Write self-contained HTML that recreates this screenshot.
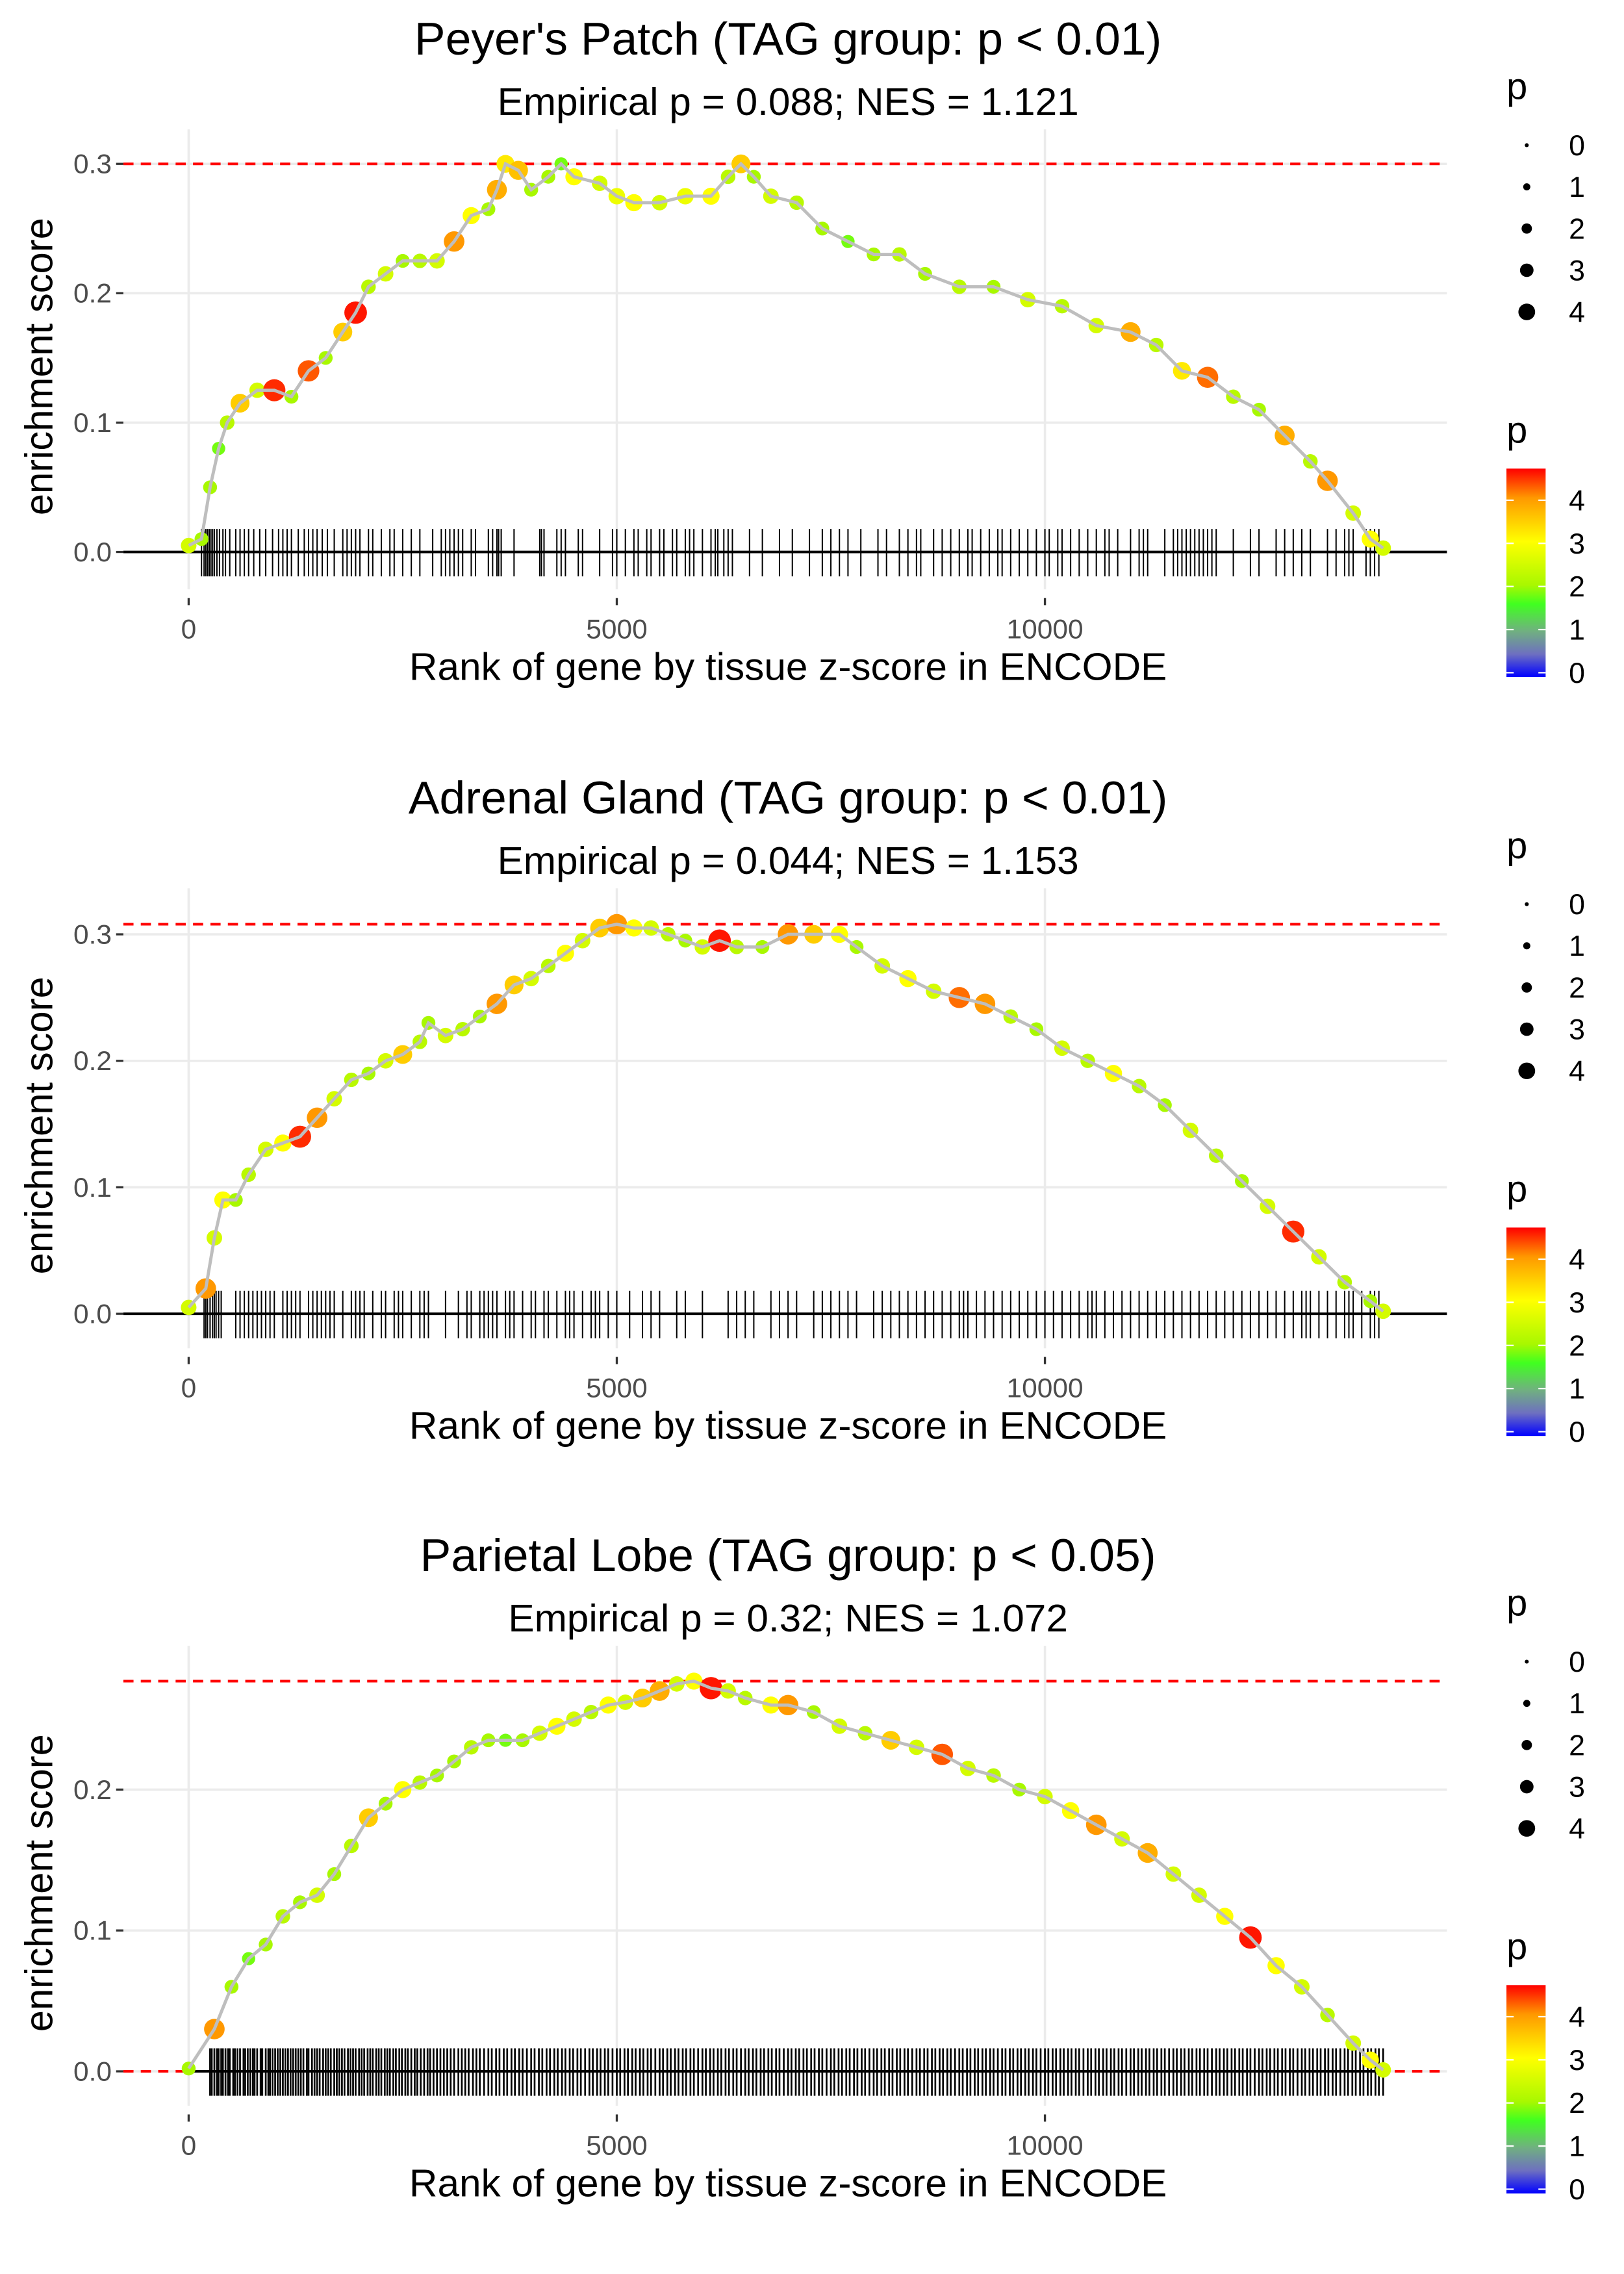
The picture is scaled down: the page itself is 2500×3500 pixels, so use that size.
<!DOCTYPE html>
<html><head><meta charset="utf-8"><title>Enrichment plots</title>
<style>html,body{margin:0;padding:0;background:#fff}svg{display:block}text{font-family:"Liberation Sans",sans-serif}</style>
</head><body>
<svg id="chart" xmlns="http://www.w3.org/2000/svg" width="2500" height="3500" viewBox="0 0 1119 1582" preserveAspectRatio="none">
<defs>
<linearGradient id="pgrad" x1="0" y1="1" x2="0" y2="0">
<stop offset="0%" stop-color="#0000ff"/><stop offset="11%" stop-color="#6e70c0"/><stop offset="22%" stop-color="#70b080"/>
<stop offset="35%" stop-color="#40ff20"/><stop offset="44%" stop-color="#a8f800"/><stop offset="65%" stop-color="#ffff00"/>
<stop offset="86%" stop-color="#ff9800"/><stop offset="100%" stop-color="#ff0000"/></linearGradient>
</defs>
</svg>
<script>
const NS="http://www.w3.org/2000/svg";
const svg=document.getElementById('chart');
const xTicks=[0,5000,10000];
// Panel 1: Peyer's Patch
const p1Rank=[0,150,250,350,450,600,800,1000,1200,1400,1600,1800,1950,2100,2300,2500,2700,2900,3100,3300,3500,3600,3700,3850,4000,4200,4350,4500,4800,5000,5200,5500,5800,6100,6300,6450,6600,6800,7100,7400,7700,8000,8300,8600,9000,9400,9800,10200,10600,11000,11300,11600,11900,12200,12500,12800,13100,13300,13600,13800,13950];
const p1ES=[.005,.01,.05,.08,.10,.115,.125,.125,.12,.14,.15,.17,.185,.205,.215,.225,.225,.225,.24,.26,.265,.28,.30,.295,.28,.29,.30,.29,.285,.275,.27,.27,.275,.275,.29,.30,.29,.275,.27,.25,.24,.23,.23,.215,.205,.205,.195,.19,.175,.17,.16,.14,.135,.12,.11,.09,.07,.055,.03,.01,.003];
const p1P=[2.5,2,2,1.8,2.2,3.5,2.5,4.5,2,4.3,2,3.5,4.6,2.2,2.5,2,2.2,2.5,4,3,2,3.8,3.2,3.6,2,2,1.8,3,2.5,2.8,3,2.5,2.8,3,2.2,3.5,2,2.5,2.2,2,1.8,2,2.2,2,2.2,2,2.5,2.2,2.5,3.8,2.2,3.2,4.2,2.2,2,3.8,2.2,4,2.5,3,2.5];
const p1Rug=[150,180,200,220,240,260,280,300,330,360,400,430,480,550,600,650,700,760,830,900,980,1050,1100,1150,1200,1280,1350,1400,1450,1500,1560,1620,1700,1800,1850,1900,1950,2000,2100,2150,2250,2350,2400,2500,2600,2700,2850,2950,3000,3050,3100,3150,3200,3300,3350,3500,3550,3600,3620,3650,3800,4100,4120,4150,4300,4350,4400,4550,4600,4800,4950,5000,5100,5200,5250,5350,5400,5500,5550,5650,5700,5800,5850,5900,6000,6100,6150,6180,6250,6300,6350,6550,6700,6900,7050,7250,7400,7500,7600,7700,7850,8050,8150,8300,8400,8500,8550,8700,8800,8900,9000,9100,9150,9250,9350,9450,9500,9600,9700,9800,9900,10000,10050,10150,10200,10300,10400,10500,10600,10700,10750,10850,11000,11100,11150,11200,11400,11500,11550,11600,11650,11700,11750,11800,11850,11900,11950,12000,12200,12400,12500,12700,12800,12900,13000,13100,13300,13400,13500,13550,13600,13750,13800,13850,13900];
const p1YTicks=[0,0.1,0.2,0.3];
// Panel 2: Adrenal Gland
const p2Rank=[0,200,300,400,550,700,900,1100,1300,1500,1700,1900,2100,2300,2500,2700,2800,3000,3200,3400,3600,3800,4000,4200,4400,4600,4800,5000,5200,5400,5600,5800,6000,6200,6400,6700,7000,7300,7600,7800,8100,8400,8700,9000,9300,9600,9900,10200,10500,10800,11100,11400,11700,12000,12300,12600,12900,13200,13500,13800,13950];
const p2ES=[.005,.02,.06,.09,.09,.11,.13,.135,.14,.155,.17,.185,.19,.2,.205,.215,.23,.22,.225,.235,.245,.26,.265,.275,.285,.295,.305,.308,.305,.305,.3,.295,.29,.295,.29,.29,.3,.3,.3,.29,.275,.265,.255,.25,.245,.235,.225,.21,.2,.19,.18,.165,.145,.125,.105,.085,.065,.045,.025,.01,.002];
const p2P=[2.5,4,2.5,3,2,2.2,2.5,3,4.5,4,2.5,2.2,2,2.5,3.5,2.2,2,2.5,2.2,2,4,3.5,2.5,2.2,3,2.5,3.5,4,3,2.5,2.2,2,2.5,4.6,2.2,2,4,3.5,3,2,2.5,3,2.5,4.2,4,2.2,2,2.5,2.2,3,2.2,2,2.5,2.2,2,2.5,4.5,2.5,2.2,2,2.5];
const p2Rug=[180,200,220,250,280,300,320,350,380,550,600,650,700,750,800,850,900,950,1000,1100,1150,1200,1250,1300,1400,1450,1500,1550,1600,1650,1700,1800,1900,1950,2000,2050,2150,2250,2300,2400,2450,2500,2600,2700,2750,2800,3000,3150,3250,3300,3400,3450,3500,3550,3600,3700,3750,3800,3900,4000,4050,4150,4200,4300,4400,4450,4500,4600,4700,4750,4800,4900,5000,5150,5300,5400,5500,5700,5800,6000,6300,6400,6500,6600,6800,6900,7000,7100,7300,7400,7500,7600,7700,7800,8000,8100,8200,8300,8400,8500,8600,8700,8800,8900,9000,9050,9100,9200,9300,9400,9500,9600,9700,9800,9900,10000,10100,10200,10300,10400,10500,10550,10600,10700,10800,10900,11000,11100,11200,11300,11400,11500,11600,11700,11800,11900,12000,12100,12200,12300,12400,12500,12600,12700,12800,12900,13000,13050,13100,13200,13300,13400,13500,13550,13600,13700,13800,13850,13900];
const p2YTicks=[0,0.1,0.2,0.3];
// Panel 3: Parietal Lobe
const p3Rank=[0,300,500,700,900,1100,1300,1500,1700,1900,2100,2300,2500,2700,2900,3100,3300,3500,3700,3900,4100,4300,4500,4700,4900,5100,5300,5500,5700,5900,6100,6300,6500,6800,7000,7300,7600,7900,8200,8500,8800,9100,9400,9700,10000,10300,10600,10900,11200,11500,11800,12100,12400,12700,13000,13300,13600,13800,13950];
const p3ES=[.002,.03,.06,.08,.09,.11,.12,.125,.14,.16,.18,.19,.2,.205,.21,.22,.23,.235,.235,.235,.24,.245,.25,.255,.26,.262,.265,.27,.275,.277,.272,.27,.265,.26,.26,.255,.245,.24,.235,.23,.225,.215,.21,.2,.195,.185,.175,.165,.155,.14,.125,.11,.095,.075,.06,.04,.02,.008,.001];
const p3P=[2,4,2,1.8,2,2.2,2,2.5,2,2.2,3.5,2,3,2.2,2,2,2.2,2,1.8,2,2.5,3,2.5,2.2,3,2.5,3.5,3.8,2.5,3,4.6,2.5,2.2,3,4,2,2.5,2.2,3.5,2.5,4.3,2.5,2.2,2,2.5,3,4,2.5,3.8,2.5,2.5,3,4.6,3,2.5,2.2,2.5,3,2.5];
const p3Rug=[250,270,300,330,350,380,400,430,460,480,520,540,570,600,640,660,690,720,750,770,800,840,860,900,930,950,980,1010,1040,1070,1100,1130,1160,1190,1220,1250,1280,1310,1340,1380,1400,1440,1470,1500,1530,1570,1600,1630,1660,1700,1730,1760,1790,1820,1860,1890,1920,1950,1990,2020,2050,2090,2120,2150,2190,2220,2250,2290,2320,2350,2390,2420,2460,2490,2530,2560,2600,2640,2670,2710,2750,2790,2820,2860,2900,2940,2980,3020,3060,3100,3150,3190,3230,3270,3320,3360,3400,3450,3500,3540,3590,3630,3680,3720,3770,3810,3860,3900,3950,4000,4040,4090,4130,4180,4220,4270,4310,4360,4400,4450,4490,4540,4580,4630,4680,4720,4770,4810,4860,4900,4950,5000,5040,5090,5130,5180,5220,5270,5310,5360,5400,5450,5500,5540,5590,5630,5680,5720,5770,5810,5860,5900,5950,6000,6040,6090,6130,6180,6220,6270,6310,6360,6400,6450,6500,6540,6590,6630,6680,6720,6770,6810,6860,6900,6950,7000,7040,7090,7130,7180,7220,7270,7310,7360,7400,7450,7500,7540,7590,7630,7680,7720,7770,7810,7860,7900,7950,8000,8040,8090,8130,8180,8220,8270,8310,8360,8400,8450,8500,8540,8590,8630,8680,8720,8770,8810,8860,8900,8950,9000,9040,9090,9130,9180,9220,9270,9310,9360,9400,9450,9500,9540,9590,9630,9680,9720,9770,9810,9860,9900,9950,10000,10040,10090,10130,10180,10220,10270,10310,10360,10400,10450,10500,10540,10590,10630,10680,10720,10770,10810,10860,10900,10950,11000,11040,11090,11130,11180,11220,11270,11310,11360,11400,11450,11500,11540,11590,11630,11680,11720,11770,11810,11860,11900,11950,12000,12040,12090,12130,12180,12220,12270,12310,12360,12400,12450,12500,12540,12590,12630,12680,12720,12770,12810,12860,12900,12950,13000,13040,13090,13130,13180,13220,13270,13310,13360,13400,13450,13500,13540,13590,13630,13680,13720,13770,13810,13860,13900,13950];
const p3YTicks=[0,0.1,0.2];
const legendSizes=[0,1,2,3,4];

const stops=[[0,[0,0,255]],[0.5,[110,112,192]],[1,[112,176,128]],[1.6,[64,255,32]],[2,[168,248,0]],[3,[255,255,0]],[4,[255,152,0]],[4.7,[255,0,0]]];
function colorFor(p){
  if(p<=stops[0][0])return 'rgb(0,0,255)';
  for(let i=1;i<stops.length;i++){if(p<=stops[i][0]){const a=stops[i-1],b=stops[i],t=(p-a[0])/(b[0]-a[0]);
    const c=a[1].map((v,k)=>Math.round(v+(b[1][k]-v)*t));return `rgb(${c[0]},${c[1]},${c[2]})`;}}
  return 'rgb(255,0,0)';
}
function radiusFor(p){return 2.5+1.15*p;}
function el(tag,attrs,parent){const e=document.createElementNS(NS,tag);for(const k in attrs)e.setAttribute(k,attrs[k]);(parent||svg).appendChild(e);return e;}
function txt(s,attrs,parent){const e=el('text',attrs,parent);e.textContent=s;return e;}

function drawPanel(o,title,sub,ranks,es,ps,rug,yTicks,y0,yScale,rugW,zeroDash,gname){
  const g=el('g',{});
  
  
  const L=85,R=997,T=o+90,B=o+410;
  const xS=r=>130+r*0.059;
  const yS=v=>o+y0-v*yScale;
  yTicks.forEach(v=>{const l=el('line',{x1:L,x2:R,y1:yS(v),y2:yS(v),stroke:'#ebebeb','stroke-width':1.6},g);
    });
  xTicks.forEach(v=>{const l=el('line',{x1:xS(v),x2:xS(v),y1:T,y2:B,stroke:'#ebebeb','stroke-width':1.6},g);
    });
  const mx=Math.max(...es);
  const dl=el('line',{x1:L,x2:R,y1:yS(mx),y2:yS(mx),stroke:'#ff0000','stroke-width':1.8,'stroke-dasharray':'7,5'},g);
  
  if(zeroDash){const z=el('line',{x1:L,x2:R,y1:yS(0),y2:yS(0),stroke:'#ff0000','stroke-width':1.8,'stroke-dasharray':'7,5'},g);
    }
  const rg=el('g',{},g);
  rug.forEach(r=>{const t=el('line',{x1:xS(r),x2:xS(r),y1:yS(0)-16,y2:yS(0)+17,stroke:'#000','stroke-width':rugW},rg);
    });
  const zl=el('line',{x1:zeroDash?xS(0):L,x2:zeroDash?xS(13950):R,y1:yS(0),y2:yS(0),stroke:'#000','stroke-width':1.8},g);
  
  const pg=el('g',{},g);
  ranks.forEach((r,i)=>{const c=el('circle',{cx:xS(r),cy:yS(es[i]),r:radiusFor(ps[i]),fill:colorFor(ps[i])},pg);
    });
  const path=el('polyline',{points:ranks.map((r,i)=>xS(r)+','+yS(es[i])).join(' '),fill:'none',stroke:'#bebebe','stroke-width':2.2},g);
  
  yTicks.forEach(v=>{const tk=el('line',{x1:80,x2:85,y1:yS(v),y2:yS(v),stroke:'#333','stroke-width':1.5},g);
    
    const t=txt(v.toFixed(1),{x:77,y:yS(v)+6.5,'text-anchor':'end','font-size':19,fill:'#4d4d4d'},g);
    });
  xTicks.forEach(v=>{const tk=el('line',{x1:xS(v),x2:xS(v),y1:B+6,y2:B+11,stroke:'#333','stroke-width':1.5},g);
    
    const t=txt(String(v),{x:xS(v),y:o+444,'text-anchor':'middle','font-size':19,fill:'#4d4d4d'},g);
    });
  const xt=txt('Rank of gene by tissue z-score in ENCODE',{x:543,y:o+473,'text-anchor':'middle','font-size':27,fill:'#000'},g);
  
  const yt=txt('enrichment score',{x:0,y:0,'text-anchor':'middle','font-size':27,fill:'#000',transform:`translate(36,${o+255}) rotate(-90)`},g);
  
  const tt=txt(title,{x:543,y:o+38,'text-anchor':'middle','font-size':32,fill:'#000'},g);
  
  const st=txt(sub,{x:543,y:o+80,'text-anchor':'middle','font-size':27,fill:'#000'},g);
  
  const sl=el('g',{},g);
  const s1=txt('p',{x:1038,y:o+69,'font-size':26,fill:'#000'},sl);
  
  legendSizes.forEach((v,i)=>{const yy=o+101+i*29;
    const c=el('circle',{cx:1052,cy:yy,r:(1.3+1.05*v)*1.05,fill:'#000'},sl);
    
    const t=txt(String(v),{x:1081,y:yy+7,'font-size':20,fill:'#000'},sl);
    });
  const cl=el('g',{},g);
  const c1=txt('p',{x:1038,y:o+308,'font-size':26,fill:'#000'},cl);
  
  const bar=el('rect',{x:1038,y:o+326,width:27,height:145,fill:'url(#pgrad)'},cl);
  
  legendSizes.forEach(v=>{const yy=o+468-v*30;
    ['1038','1060'].forEach(x=>{const m=el('line',{x1:+x,x2:+x+5,y1:yy,y2:yy,stroke:'#fff','stroke-width':1},cl);
      });
    const t=txt(String(v),{x:1081,y:yy+7,'font-size':20,fill:'#000'},cl);
    });
}
drawPanel(0,"Peyer's Patch (TAG group: p < 0.01)","Empirical p = 0.088; NES = 1.121",p1Rank,p1ES,p1P,p1Rug,p1YTicks,384,900,0.9,false,'panel-peyers-patch');
drawPanel(528,"Adrenal Gland (TAG group: p < 0.01)","Empirical p = 0.044; NES = 1.153",p2Rank,p2ES,p2P,p2Rug,p2YTicks,386,880,0.9,false,'panel-adrenal-gland');
drawPanel(1055,"Parietal Lobe (TAG group: p < 0.05)","Empirical p = 0.32; NES = 1.072",p3Rank,p3ES,p3P,p3Rug,p3YTicks,386,980,1.2,true,'panel-parietal-lobe');
</script>
</body></html>
